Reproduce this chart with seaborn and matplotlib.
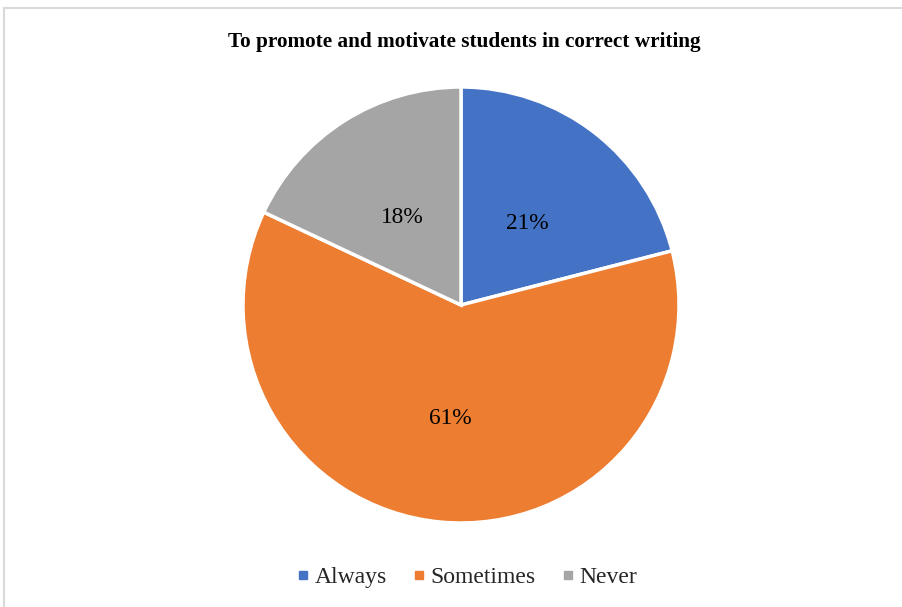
import matplotlib
matplotlib.use("Agg")
import matplotlib.pyplot as plt
import seaborn as sns
from matplotlib.lines import Line2D
from matplotlib.patches import Rectangle

sns.set_theme(style="white")
plt.rcParams['font.family'] = ['Liberation Serif', 'DejaVu Serif']

title = "To promote and motivate students in correct writing"
categories = ["Always", "Sometimes", "Never"]
values = [21, 61, 18]
colors = ["#4472C4", "#ED7D31", "#A5A5A5"]

W, H = 902, 607
fig = plt.figure(figsize=(W / 100, H / 100), dpi=100)
fig.patch.set_facecolor("white")

# outer frame
fig.add_artist(Rectangle((4 / W, -0.05), 1.2, 1 - 8 / H + 0.05, transform=fig.transFigure,
                         fill=False, edgecolor="#D9D9D9", linewidth=1.5))

cx, cy, r = 461, 305, 218
ax = fig.add_axes([(cx - r) / W, (H - cy - r) / H, 2 * r / W, 2 * r / H])
wedges, texts, autotexts = ax.pie(
    values, colors=colors, startangle=90, counterclock=False,
    autopct=lambda p: f"{p:.0f}%", pctdistance=0.5,
    wedgeprops=dict(edgecolor="white", linewidth=2.5),
    textprops=dict(fontsize=16.8, color="#000000"),
)
for t in autotexts:
    x, y = t.get_position()
    t.set_position((x, y - 0.022))
ax.set_xlim(-1, 1)
ax.set_ylim(-1, 1)
ax.set_aspect("equal")
ax.axis("off")

fig.text(464 / W, 1 - 42 / H, title, ha="center", va="center",
         fontsize=15.3, fontweight="bold", color="#000000")

handles = [Line2D([0], [0], marker="s", linestyle="none", markersize=6,
                  markerfacecolor=c, markeredgecolor=c) for c in colors]
fig.legend(handles, categories, loc="center", bbox_to_anchor=(466 / W, 1 - 577 / H),
           ncol=3, frameon=False, fontsize=17, handletextpad=0.15, columnspacing=1.0,
           handlelength=0.7)

fig.savefig("out.png", dpi=100, facecolor="white")
